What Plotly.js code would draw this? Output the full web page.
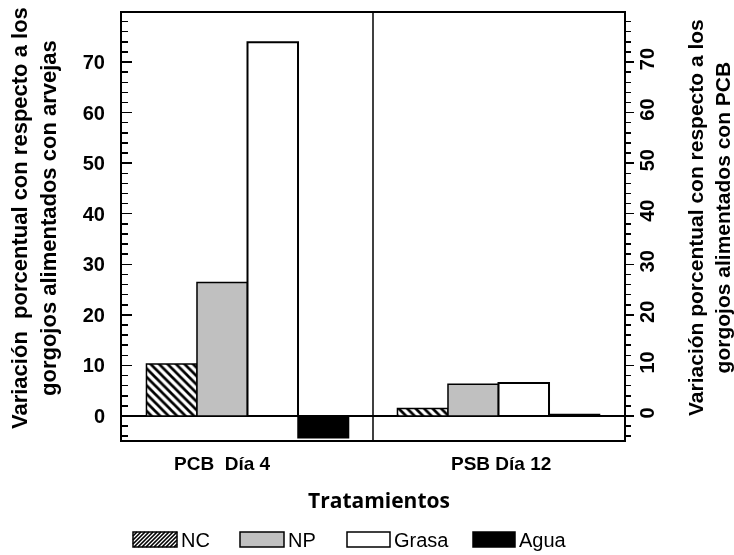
<!DOCTYPE html>
<html><head><meta charset="utf-8">
<script src="https://cdn.plot.ly/plotly-3.0.1.min.js"></script>
<style>body{margin:0;background:#fff}#chart{width:734px;height:555px}</style>
</head><body><div id="chart"></div>
<script>
// ---- data ----
const categories = ['PCB Día 4', 'PSB Día 12'];
const categoryLabels = ['PCB&nbsp; Día 4', 'PSB Día 12'];
const seriesNames = ['NC', 'NP', 'Grasa', 'Agua'];
const ncValues = [10.3, 1.5];
const npValues = [26.4, 6.3];
const grasaValues = [73.9, 6.5];
const aguaValues = [-4.3, 0.3];
const yTickVals = [0, 10, 20, 30, 40, 50, 60, 70];
const xTitle = 'Tratamientos';
const leftTitle = 'Variación&nbsp; porcentual con respecto a los<br>gorgojos alimentados con arvejas';
const rightTitle = 'Variación porcentual con respecto a los<br>gorgojos alimentados con PCB';

// ---- geometry helpers (plot area in pixels) ----
const W = 734, H = 555;
const PL = 122, PR = 624, PT = 13, PB = 440;
const px2x = p => (p - PL) / (PR - PL);
const py2y = p => (PB - p) / (PB - PT);
const FONT = 'Arial, "Liberation Sans", sans-serif';

const outline = {color: 'black', width: 1.5};
const traces = [
  {type: 'bar', name: seriesNames[0], x: categories, y: ncValues,
   marker: {color: 'white', line: outline,
            pattern: {shape: '\\', fgcolor: 'black', bgcolor: 'white', size: 6, solidity: 0.45}}},
  {type: 'bar', name: seriesNames[1], x: categories, y: npValues,
   marker: {color: '#c0c0c0', line: outline}},
  {type: 'bar', name: seriesNames[2], x: categories, y: grasaValues,
   marker: {color: 'white', line: {color: 'black', width: 2}}},
  {type: 'bar', name: seriesNames[3], x: categories, y: aguaValues,
   marker: {color: 'black', line: outline}},
  {type: 'scatter', mode: 'markers', x: categories, y: grasaValues, yaxis: 'y2',
   opacity: 0, showlegend: false, hoverinfo: 'skip'}
];

// ---- custom legend ----
const legendBoxes = [
  {x0: 133, x1: 177, fill: 'white', hatch: true},
  {x0: 240, x1: 284, fill: '#c0c0c0'},
  {x0: 347, x1: 390, fill: 'white'},
  {x0: 473, x1: 515, fill: 'black'}
];
const LY0 = 532, LY1 = 547, LYC = 540;
const shapes = [];
const annotations = [];
legendBoxes.forEach((b, i) => {
  shapes.push({type: 'rect', xref: 'paper', yref: 'paper',
    x0: px2x(b.x0), x1: px2x(b.x1), y0: py2y(LY1), y1: py2y(LY0),
    fillcolor: b.fill, line: {color: 'black', width: 1.5}});
  if (b.hatch) {
    const h = LY1 - LY0;
    let d = '';
    for (let s = b.x0 - h; s < b.x1; s += 4) {
      const t0 = Math.max(0, (b.x0 - s) / h), t1 = Math.min(1, (b.x1 - s) / h);
      if (t0 >= t1) continue;
      const ax = s + t0 * h, ay = LY1 - t0 * h, bx = s + t1 * h, by = LY1 - t1 * h;
      d += `M${px2x(ax)},${py2y(ay)}L${px2x(bx)},${py2y(by)}`;
    }
    shapes.push({type: 'path', xref: 'paper', yref: 'paper', path: d,
      line: {color: 'black', width: 1.6}});
  }
  annotations.push({xref: 'paper', yref: 'paper', x: px2x(b.x1 + 2), y: py2y(LYC),
    xanchor: 'left', yanchor: 'middle', showarrow: false, text: seriesNames[i],
    font: {family: FONT, size: 20, color: 'black'}});
});

// divider between the groups
shapes.push({type: 'line', xref: 'x', yref: 'paper', x0: 0.5, x1: 0.5, y0: 0, y1: 1,
  line: {color: 'black', width: 1.5}});

// category labels
const catShift = [-25, 2];
categories.forEach((c, i) => {
  annotations.push({xref: 'x', yref: 'paper', x: c, y: py2y(463), xshift: catShift[i],
    xanchor: 'center', yanchor: 'middle', showarrow: false, text: categoryLabels[i],
    font: {family: FONT, size: 19, color: 'black', weight: 'bold'}});
});
annotations.push({xref: 'paper', yref: 'paper', x: px2x(379), y: py2y(500),
  xanchor: 'center', yanchor: 'middle', showarrow: false, text: xTitle,
  font: {family: '"Open Sans", sans-serif', size: 21, color: 'black', weight: 'bold'}});
annotations.push({xref: 'paper', yref: 'paper', x: px2x(34), y: py2y(218), textangle: -90,
  xanchor: 'center', yanchor: 'middle', showarrow: false, text: leftTitle,
  font: {family: FONT, size: 22, color: 'black', weight: 'bold'}});
annotations.push({xref: 'paper', yref: 'paper', x: px2x(709), y: py2y(218), textangle: -90,
  xanchor: 'center', yanchor: 'middle', showarrow: false, text: rightTitle,
  font: {family: FONT, size: 21, color: 'black', weight: 'bold'}});

const yRange = [-4.75, 79.7];
const tickFont = {family: FONT, size: 20, color: 'black', weight: 'bold'};
const layout = {
  width: W, height: H,
  margin: {l: PL, r: W - PR, t: PT, b: H - PB, pad: 0},
  paper_bgcolor: 'white', plot_bgcolor: 'white',
  showlegend: false,
  barmode: 'group', bargap: 0.195, bargroupgap: 0,
  xaxis: {type: 'category', range: [-0.5, 1.5], showline: true, mirror: true,
    linecolor: 'black', linewidth: 2, ticks: '', showticklabels: false,
    showgrid: false, zeroline: false, fixedrange: true},
  yaxis: {range: yRange, tickmode: 'array', tickvals: yTickVals, ticks: 'inside',
    ticklen: 10, tickwidth: 1.5, tickcolor: 'black',
    minor: {dtick: 2, tick0: 0, ticks: 'inside', ticklen: 6, tickwidth: 1.5, tickcolor: 'black', showgrid: false},
    showline: true, linecolor: 'black', linewidth: 2, showgrid: false,
    zeroline: true, zerolinecolor: 'black', zerolinewidth: 2.5,
    tickfont: tickFont, ticklabelstandoff: 11, fixedrange: true},
  yaxis2: {overlaying: 'y', side: 'right', range: yRange, tickmode: 'array', tickvals: yTickVals,
    ticks: 'outside', ticklen: 8, tickwidth: 1.5, tickcolor: 'black',
    minor: {dtick: 2, tick0: 0, ticks: 'outside', ticklen: 5, tickwidth: 1.5, tickcolor: 'black', showgrid: false},
    showline: true, linecolor: 'black', linewidth: 2, showgrid: false, zeroline: false,
    tickangle: -90, tickfont: tickFont, ticklabelstandoff: -4, fixedrange: true},
  shapes: shapes,
  annotations: annotations
};
Plotly.newPlot('chart', traces, layout, {staticPlot: true, displayModeBar: false});
</script>
</body></html>
